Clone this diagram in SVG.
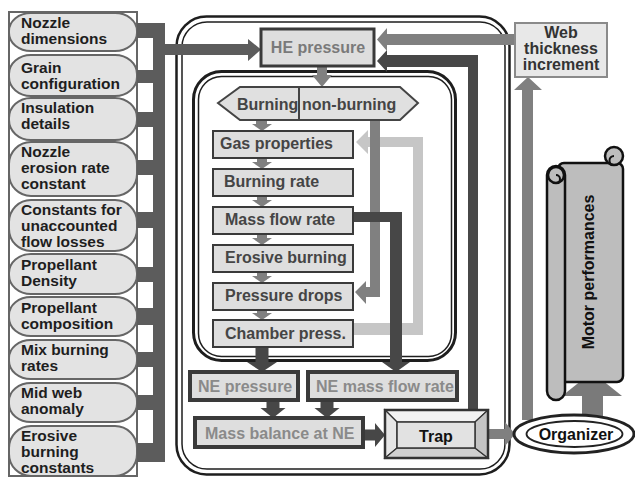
<svg xmlns="http://www.w3.org/2000/svg" width="635" height="478" viewBox="0 0 635 478">
<style>
text{font-family:"Liberation Sans",Arial,sans-serif;font-weight:bold;font-size:16px}
.pill{fill:#e3e3e3;stroke:#666;stroke-width:2}
.pt{fill:#1e1e1e;font-size:15.5px}
.box{fill:#dedede;stroke:#3a3a3a;stroke-width:2}
.bt{fill:#454545}
.ne{fill:#dedede;stroke:#3a3a3a;stroke-width:4}
.nt{fill:#8a8a8a}
.bus{fill:#5c5c5c}
.dk{fill:#474747}
.md{fill:#808080}
.lt{fill:#c6c6c6}
.frame{fill:none;stroke:#1e1e1e}
.scroll{fill:#bdbdbd;stroke:#111;stroke-width:2.5}
.bev{stroke:#333;stroke-width:1.2}
</style>
<rect width="635" height="478" fill="#fff"/>

<!-- containers -->
<g id="outer-container">
<rect class="frame" x="176.5" y="16.5" width="333" height="458" rx="30" stroke-width="2.5"/>
<rect class="frame" x="182" y="22" width="323" height="447" rx="25" stroke-width="1.5"/>
</g>
<g id="inner-container">
<rect class="frame" x="193.5" y="71.5" width="262" height="289" rx="28" stroke-width="3"/>
<rect class="frame" x="198.5" y="76.5" width="253" height="280" rx="23" stroke-width="1.5"/>
</g>

<!-- left column -->
<g id="inputs">
<rect x="9" y="12" width="128" height="464" fill="#fff" stroke="#666" stroke-width="2"/>
<g id="n-nozzle-dim"><rect class="pill" x="9" y="13" width="128" height="38" rx="22" ry="18"/><text class="pt" x="21" y="27.5">Nozzle<tspan x="21" dy="16">dimensions</tspan></text></g>
<g id="n-grain"><rect class="pill" x="9" y="55" width="128" height="41" rx="22" ry="19"/><text class="pt" x="21" y="72.5">Grain<tspan x="21" dy="16">configuration</tspan></text></g>
<g id="n-insulation"><rect class="pill" x="9" y="98" width="128" height="42" rx="22" ry="20"/><text class="pt" x="21" y="112.5">Insulation<tspan x="21" dy="16">details</tspan></text></g>
<g id="n-nozzle-erosion"><rect class="pill" x="9" y="142" width="128" height="54" rx="22" ry="22"/><text class="pt" x="21" y="157">Nozzle<tspan x="21" dy="16">erosion rate</tspan><tspan x="21" dy="16">constant</tspan></text></g>
<g id="n-constants"><rect class="pill" x="9" y="200" width="128" height="51" rx="22" ry="22"/><text class="pt" x="21" y="215">Constants for<tspan x="21" dy="16">unaccounted</tspan><tspan x="21" dy="16">flow losses</tspan></text></g>
<g id="n-density"><rect class="pill" x="9" y="254" width="128" height="40" rx="22" ry="19"/><text class="pt" x="21" y="269.5">Propellant<tspan x="21" dy="16">Density</tspan></text></g>
<g id="n-composition"><rect class="pill" x="9" y="297" width="128" height="39" rx="22" ry="18"/><text class="pt" x="21" y="312.5">Propellant<tspan x="21" dy="16">composition</tspan></text></g>
<g id="n-mix"><rect class="pill" x="9" y="340" width="128" height="39" rx="22" ry="18"/><text class="pt" x="21" y="354.5">Mix burning<tspan x="21" dy="16">rates</tspan></text></g>
<g id="n-midweb"><rect class="pill" x="9" y="383" width="128" height="39" rx="22" ry="18"/><text class="pt" x="21" y="397.5">Mid web<tspan x="21" dy="16">anomaly</tspan></text></g>
<g id="n-erosive-const"><rect class="pill" x="9" y="426" width="128" height="50" rx="22" ry="22"/><text class="pt" x="21" y="441">Erosive<tspan x="21" dy="16">burning</tspan><tspan x="21" dy="16">constants</tspan></text></g>
</g>

<!-- connectors -->
<g id="connectors">
<!-- input bus -->
<rect class="bus" x="153" y="23" width="12" height="439"/>
<rect class="bus" x="137" y="23" width="16" height="15"/>
<rect class="bus" x="137" y="70" width="16" height="13"/>
<rect class="bus" x="137" y="112" width="16" height="15"/>
<rect class="bus" x="137" y="160" width="16" height="15"/>
<rect class="bus" x="137" y="212" width="16" height="16"/>
<rect class="bus" x="137" y="267" width="16" height="15"/>
<rect class="bus" x="137" y="308" width="16" height="17"/>
<rect class="bus" x="137" y="352" width="16" height="15"/>
<rect class="bus" x="137" y="395" width="16" height="15"/>
<rect class="bus" x="137" y="443" width="16" height="19"/>
<polygon class="bus" points="165,44 248,44 248,39 261,49.5 248,61 248,55 165,55"/>

<!-- light gray loop chamber -> gas properties -->
<polygon class="lt" points="353,323 413,323 413,147 368,147 368,154 356,142 368,130 368,137 423,137 423,335 353,335"/>
<!-- medium non-burning -> pressure drops -->
<polygon class="md" points="370,120 380,120 380,297 366,297 366,304 355,292 366,281 366,287 370,287"/>
<!-- chain arrows -->
<polygon class="md" points="317,66 327,66 327,75 332,75 322,87 312,75 317,75"/>
<polygon class="md" points="256,120 267,120 267,124 272,124 262,131 252,124 256,124"/>
<polygon class="md" points="257,158 267,158 267,162 272,162 262,169 252,162 257,162"/>
<polygon class="md" points="257,196 267,196 267,200 272,200 262,207 252,200 257,200"/>
<polygon class="md" points="257,234 267,234 267,238 272,238 262,245 252,238 257,238"/>
<polygon class="md" points="257,272 267,272 267,276 272,276 262,283 252,276 257,276"/>
<polygon class="md" points="257,310 267,310 267,313 272,313 262,320 252,313 257,313"/>
<!-- dark: mass flow rate -> NE mass flow rate -->
<polygon class="dk" points="353,212 402,212 402,362 410,362 396,372 382,362 390,362 390,222 353,222"/>
<!-- dark: chamber press -> NE pressure -->
<polygon class="dk" points="255.5,347 268.5,347 268.5,362 277,362 262,372 247,362 255.5,362"/>
<!-- NE -> mass balance -->
<polygon class="dk" points="266.5,400 279.5,400 279.5,408 285.5,408 273,418 260.5,408 266.5,408"/>
<polygon class="dk" points="320.5,400 333.5,400 333.5,408 339.5,408 327,418 314.5,408 320.5,408"/>
<!-- mass balance -> trap -->
<polygon class="dk" points="363,429.5 375,429.5 375,423 385,435 375,447 375,440.5 363,440.5"/>
<!-- trap -> HE pressure -->
<polygon class="dk" points="478,410 478,55 387,55 387,50 377,61 387,72 387,67 468,67 468,410"/>
<!-- web thickness -> HE pressure -->
<polygon class="md" points="515,34 387,34 387,28 377,39.5 387,51 387,45 515,45"/>
<!-- organizer -> web thickness -->
<polygon class="md" points="522,420 522,90 514,90 528,77 542,90 533,90 533,420"/>
<!-- trap -> organizer -->
<polygon class="md" points="488,429 505,429 505,422 515,434 505,446 505,439 488,439"/>
<!-- organizer -> motor performances -->
<polygon fill="#7a7a7a" points="582,416 582,396 562,396 592,372 622,396 603,396 603,416"/>
</g>

<!-- nodes -->
<g id="he-pressure"><rect x="261" y="29" width="113" height="37" fill="#dedede" stroke="#3a3a3a" stroke-width="3"/><text x="318" y="53" text-anchor="middle" fill="#7a7a7a">HE pressure</text></g>
<g id="burning-nonburning"><polygon points="218,103 240,87 400,87 418,103 400,120 240,120" fill="#e0e0e0" stroke="#444" stroke-width="2"/><line x1="299" y1="87" x2="299" y2="120" stroke="#444" stroke-width="2"/><text class="bt" x="237" y="110">Burning</text><text class="bt" x="302" y="110">non-burning</text></g>
<g id="gas-properties"><rect class="box" x="213" y="131" width="140" height="27"/><text class="bt" x="220" y="149">Gas properties</text></g>
<g id="burning-rate"><rect class="box" x="213" y="169" width="140" height="27"/><text class="bt" x="224" y="187">Burning rate</text></g>
<g id="mass-flow-rate"><rect class="box" x="213" y="207" width="140" height="27"/><text class="bt" x="225" y="225">Mass flow rate</text></g>
<g id="erosive-burning"><rect class="box" x="213" y="245" width="140" height="27"/><text class="bt" x="225" y="263">Erosive burning</text></g>
<g id="pressure-drops"><rect class="box" x="213" y="283" width="140" height="27"/><text class="bt" x="225" y="301">Pressure drops</text></g>
<g id="chamber-press"><rect class="box" x="213" y="320" width="140" height="27"/><text class="bt" x="225" y="339">Chamber press.</text></g>
<g id="ne-pressure"><rect class="ne" x="190" y="372" width="108" height="28"/><text class="nt" x="198" y="392">NE pressure</text></g>
<g id="ne-mass-flow"><rect class="ne" x="308" y="372" width="149" height="28"/><text class="nt" x="316" y="392">NE mass flow rate</text></g>
<g id="mass-balance"><rect class="ne" x="195" y="418" width="168" height="29"/><text class="nt" x="205" y="439">Mass balance at NE</text></g>
<g id="trap">
<polygon class="bev" points="385,410 488,410 475,422 397,422" fill="#f2f2f2"/>
<polygon class="bev" points="385,410 397,422 397,448 385,458" fill="#e6e6e6"/>
<polygon class="bev" points="385,458 397,448 475,448 488,458" fill="#d0d0d0"/>
<polygon class="bev" points="488,410 488,458 475,448 475,422" fill="#c4c4c4"/>
<rect x="397" y="422" width="78" height="26" fill="#e2e2e2" stroke="#333" stroke-width="1.5"/>
<rect x="385" y="410" width="103" height="48" fill="none" stroke="#333" stroke-width="2.5"/>
<text x="436" y="442" text-anchor="middle" fill="#111" font-size="18">Trap</text>
</g>
<g id="web-thickness"><rect x="515" y="23" width="92" height="54" fill="#e8e8e8" stroke="#8a8a8a" stroke-width="2"/><text x="561" y="37.5" text-anchor="middle" fill="#333" font-size="15.5">Web<tspan x="561" dy="16">thickness</tspan><tspan x="561" dy="16">increment</tspan></text></g>
<g id="organizer"><ellipse cx="574" cy="434" rx="60" ry="19" fill="#fff" stroke="#222" stroke-width="3"/><ellipse cx="574.5" cy="434" rx="48" ry="13" fill="#fff" stroke="#222" stroke-width="1.8"/><text x="576" y="440" text-anchor="middle" fill="#111">Organizer</text></g>
<g id="motor-performances">
<rect class="scroll" x="558" y="163" width="65" height="219" rx="6"/>
<circle class="scroll" cx="614" cy="156" r="9"/>
<path d="M614 165 A4.5 4.5 0 0 1 614 156" fill="none" stroke="#111" stroke-width="2"/>
<rect class="scroll" x="547" y="166" width="18" height="234" rx="9"/>
<circle class="scroll" cx="556" cy="175" r="8"/>
<path d="M556 175 A4 4 0 0 1 556 183" fill="none" stroke="#111" stroke-width="2"/>
<text transform="translate(594,272) rotate(-90)" x="0" y="0" text-anchor="middle" fill="#111" font-size="18">Motor performances</text>
</g>
</svg>
